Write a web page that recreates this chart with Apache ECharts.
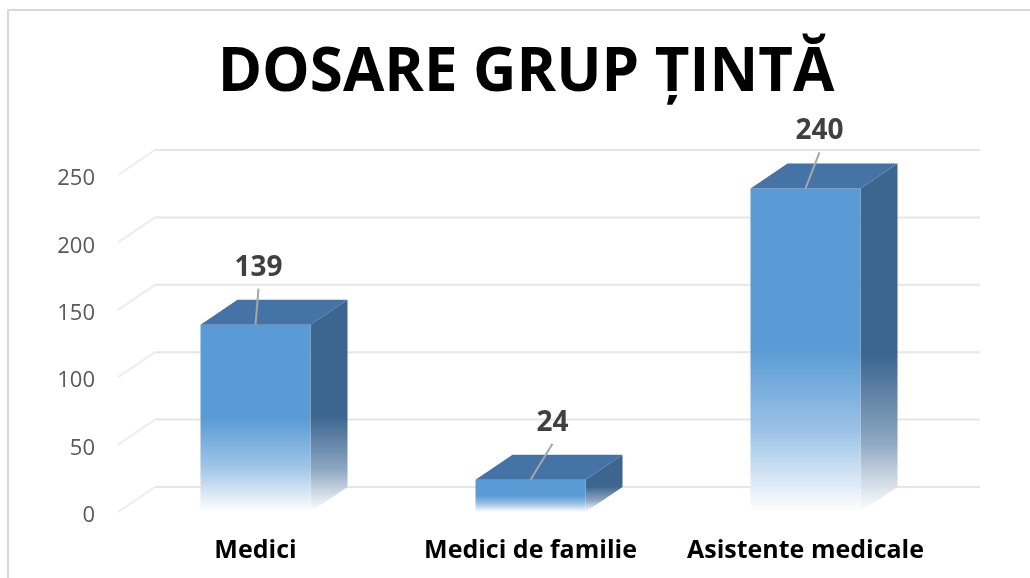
<!DOCTYPE html>
<html>
<head>
<meta charset="utf-8">
<style>
  html, body { margin: 0; padding: 0; background: #ffffff; }
  #chart { width: 1030px; height: 578px; }
</style>
<script src="https://cdn.jsdelivr.net/npm/echarts@6/dist/echarts.min.js"></script>
</head>
<body>
<div id="chart"></div>
<script>
// Chart data
const chartTitle = 'DOSARE GRUP ȚINTĂ';
const categories = ['Medici', 'Medici de familie', 'Asistente medicale'];
const dosare = [139, 24, 240];
const yTicks = [0, 50, 100, 150, 200, 250];

// Layout of the pseudo-3D look (pixels)
const DEPTH_X = 37;          // how far the back wall sits to the right
const DEPTH_Y = -25;         // and how far up
const labelShift = [3, 22, 14]; // horizontal nudge of each value label

const chart = echarts.init(document.getElementById('chart'), null, { renderer: 'canvas' });

const FRONT = '#5b9bd5';
const TOP = '#4573a6';
const SIDE = '#3c6690';

function frontFill() {
  return new echarts.graphic.LinearGradient(0, 0, 0, 1, [
    { offset: 0, color: FRONT },
    { offset: 0.5, color: FRONT },
    { offset: 0.75, color: '#9cc3e7' },
    { offset: 0.93, color: '#e4eef9' },
    { offset: 1, color: 'rgba(255,255,255,0.9)' }
  ]);
}
function sideFill() {
  return new echarts.graphic.LinearGradient(0, 0, 0, 1, [
    { offset: 0, color: SIDE },
    { offset: 0.55, color: SIDE },
    { offset: 0.8, color: '#8ea7c2' },
    { offset: 1, color: 'rgba(255,255,255,0.9)' }
  ]);
}

// Back wall gridlines with the diagonal run back from the value axis
function renderWall(params, api) {
  const cs = params.coordSys;
  const y = api.coord([0, api.value(0)])[1];
  const left = cs.x;
  const right = cs.x + cs.width;
  return {
    type: 'group',
    silent: true,
    children: [
      {
        type: 'line',
        shape: { x1: left + DEPTH_X, y1: y + DEPTH_Y, x2: right + DEPTH_X, y2: y + DEPTH_Y },
        style: { stroke: '#e6e6e6', lineWidth: 2 }
      },
      {
        type: 'line',
        shape: { x1: left, y1: y, x2: left + DEPTH_X, y2: y + DEPTH_Y },
        style: { stroke: '#ededed', lineWidth: 2 }
      }
    ]
  };
}

// Box-shaped column: front face, top face and right side face
function renderColumn(params, api) {
  const idx = api.value(0);
  const val = api.value(1);
  const top = api.coord([idx, val]);
  const base = api.coord([idx, 0]);
  const bw = api.size([1, 0])[0] * 0.4;
  const l = top[0] - bw / 2;
  const r = top[0] + bw / 2;
  const t = top[1];
  const b = base[1];
  return {
    type: 'group',
    children: [
      {
        type: 'polygon',
        shape: { points: [[r, t], [r + DEPTH_X, t + DEPTH_Y], [r + DEPTH_X, b + DEPTH_Y], [r, b]] },
        style: { fill: sideFill() }
      },
      {
        type: 'rect',
        shape: { x: l, y: t, width: bw, height: b - t },
        style: { fill: frontFill() }
      },
      {
        type: 'polygon',
        shape: { points: [[l, t], [l + DEPTH_X, t + DEPTH_Y], [r + DEPTH_X, t + DEPTH_Y], [r, t]] },
        style: { fill: TOP }
      }
    ]
  };
}

// Value label above each column with a leader line to the top edge
function renderLabel(params, api) {
  const idx = api.value(0);
  const val = api.value(1);
  const p = api.coord([idx, val]);
  const dx = labelShift[params.dataIndex] || 0;
  return {
    type: 'group',
    children: [
      {
        type: 'line',
        shape: { x1: p[0] + dx, y1: p[1] - 36, x2: p[0], y2: p[1] },
        style: { stroke: '#a6a6a6', lineWidth: 2 }
      },
      {
        type: 'text',
        style: {
          x: p[0] + dx, y: p[1] - 57,
          text: String(val),
          align: 'center', verticalAlign: 'middle',
          font: 'bold 28px "Open Sans"',
          fill: '#404040'
        }
      }
    ]
  };
}

const columnData = dosare.map((v, i) => [i, v]);

chart.setOption({
  backgroundColor: '#ffffff',
  animation: false,
  graphic: [
    {
      type: 'rect',
      silent: true,
      shape: { x: 8, y: 10, width: 1040, height: 600 },
      style: { fill: 'none', stroke: '#d9d9d9', lineWidth: 2 }
    },
    {
      type: 'text',
      silent: true,
      style: {
        x: 526, y: 74,
        text: chartTitle,
        align: 'center', verticalAlign: 'middle',
        font: 'bold 60px "Open Sans"',
        fill: '#000000'
      }
    }
  ],
  grid: { left: 118, right: 87, top: 175, bottom: 66, containLabel: false },
  xAxis: {
    type: 'category',
    data: categories,
    axisLine: { show: false },
    axisTick: { show: false },
    axisLabel: {
      interval: 0,
      margin: 26,
      fontFamily: 'Open Sans',
      fontWeight: 'bold',
      fontSize: 25,
      color: '#000000'
    },
    splitLine: { show: false }
  },
  yAxis: {
    type: 'value',
    min: 0,
    max: 250,
    interval: 50,
    axisLine: { show: false },
    axisTick: { show: false },
    splitLine: { show: false },
    axisLabel: {
      margin: 23,
      formatter: '{t|{value}}',
      rich: {
        t: {
          padding: [8, 0, 0, 0],
          fontFamily: 'Open Sans',
          fontSize: 22,
          color: '#595959'
        }
      }
    }
  },
  series: [
    {
      name: 'wall',
      type: 'custom',
      silent: true,
      data: yTicks.map(v => [v]),
      encode: { y: 0 },
      renderItem: renderWall,
      z: 1
    },
    {
      name: 'Dosare',
      type: 'custom',
      data: columnData,
      encode: { x: 0, y: 1 },
      renderItem: renderColumn,
      z: 2
    },
    {
      name: 'etichete',
      type: 'custom',
      silent: true,
      data: columnData,
      encode: { x: 0, y: 1 },
      renderItem: renderLabel,
      z: 3
    }
  ]
});
</script>
</body>
</html>
